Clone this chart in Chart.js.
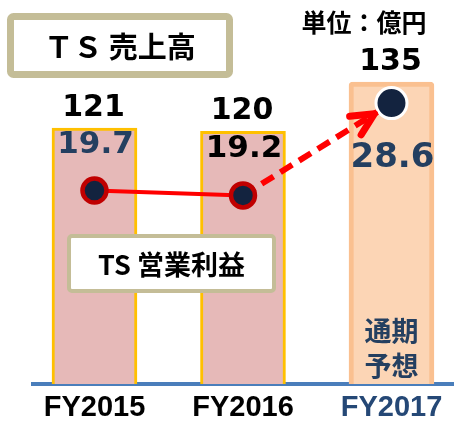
<!DOCTYPE html>
<html lang="ja">
<head>
  <meta charset="UTF-8" />
  <title>TS 売上高 / 営業利益</title>
  <script src="https://cdn.jsdelivr.net/npm/chart.js"></script>
  <style>
    html, body { margin: 0; padding: 0; background: #fff; overflow: hidden; }
    canvas { display: block; }
  </style>
</head>
<body>
  <canvas id="tsChart" width="454" height="422"></canvas>

  <script>
    // data
    const years = ['FY2015', 'FY2016', 'FY2017'];
    const sales = [121, 120, 135];          // TS 売上高 (億円)
    const profit = [19.7, 19.2, 28.6];      // TS 営業利益 (億円)
    const profitLabelAbove = [true, true, false];

    const jp = '"Noto Sans CJK JP", sans-serif';
    const num = '"DejaVu Sans", sans-serif';
    const navy = '#243f60';

    function box(ctx, x, y, w, h, lw, text, font) {
      ctx.save();
      ctx.fillStyle = '#fff';
      ctx.strokeStyle = '#c4bd97';
      ctx.lineWidth = lw;
      ctx.beginPath();
      ctx.roundRect(x, y, w, h, 3);
      ctx.fill();
      ctx.stroke();
      ctx.fillStyle = '#000';
      ctx.font = font;
      ctx.textAlign = 'center';
      ctx.textBaseline = 'middle';
      ctx.fillText(text, x + w / 2, y + h / 2 + 1);
      ctx.restore();
    }

    const annotate = {
      id: 'annotate',
      afterDatasetsDraw(chart) {
        const ctx = chart.ctx;
        const bars = chart.getDatasetMeta(0).data;
        const pts = chart.getDatasetMeta(1).data;

        // arrow head on the forecast segment
        const a = pts[1], b = pts[2];
        const ang = Math.atan2(b.y - a.y, b.x - a.x);
        const tx = b.x - Math.cos(ang) * 20, ty = b.y - Math.sin(ang) * 20;
        ctx.save();
        ctx.strokeStyle = '#ff0000';
        ctx.lineWidth = 7;
        ctx.lineCap = 'round';
        ctx.lineJoin = 'round';
        ctx.beginPath();
        ctx.moveTo(tx - Math.cos(ang - 0.45) * 25, ty - Math.sin(ang - 0.45) * 25);
        ctx.lineTo(tx, ty);
        ctx.lineTo(tx - Math.cos(ang + 0.45) * 25, ty - Math.sin(ang + 0.45) * 25);
        ctx.stroke();
        ctx.restore();

        ctx.save();
        ctx.textAlign = 'center';
        ctx.textBaseline = 'middle';
        // sales values above bars
        ctx.fillStyle = '#000';
        ctx.font = 'bold 30px ' + num;
        bars.forEach((bar, i) => {
          ctx.fillText(String(sales[i]), bar.x - 1, bar.y - 20);
        });
        // profit values
        const pColors = [navy, '#000', navy];
        const pSizes = [31, 31, 34];
        pts.forEach((p, i) => {
          ctx.fillStyle = pColors[i];
          ctx.font = 'bold ' + pSizes[i] + 'px ' + num;
          const dy = profitLabelAbove[i] ? -46 : 55;
          ctx.fillText(profit[i].toFixed(1), bars[i].x + 1, p.y + dy);
        });
        // forecast note inside FY2017 bar
        ctx.fillStyle = navy;
        ctx.font = 'bold 27px ' + jp;
        ctx.fillText('通期', bars[2].x, 331);
        ctx.fillText('予想', bars[2].x, 366);
        // unit
        ctx.fillStyle = '#000';
        ctx.font = 'bold 25px ' + jp;
        ctx.fillText('単位：億円', 364, 22);
        ctx.restore();

        box(ctx, 10.5, 16.5, 219, 58, 7, 'ＴＳ 売上高', 'bold 29px ' + jp);
        box(ctx, 69, 236, 205, 55, 4, 'TS 営業利益', 'bold 27px ' + jp);
      }
    };

    new Chart(document.getElementById('tsChart'), {
      type: 'bar',
      data: {
        datasets: [
          {
            label: 'TS 売上高',
            data: sales.map((v, i) => ({ x: i, y: v })),
            yAxisID: 'y',
            order: 2,
            backgroundColor: ['#e6b9b8', '#e6b9b8', '#fcd5b5'],
            borderColor: ['#ffc000', '#ffc000', '#fac090'],
            borderWidth: [3, 3, 5],
            borderRadius: [0, 0, 4],
            borderSkipped: false,
            barThickness: 85
          },
          {
            type: 'line',
            label: 'TS 営業利益',
            data: profit.map((v, i) => ({ x: i, y: v })),
            yAxisID: 'y2',
            order: 1,
            borderColor: '#ff0000',
            borderWidth: 4,
            pointRadius: [12, 12, 15.5],
            pointBorderWidth: [4.5, 4.5, 3],
            pointBackgroundColor: '#13233f',
            pointBorderColor: ['#c00000', '#c00000', '#ffffff'],
            segment: {
              borderDash: c => c.p0DataIndex === 1 ? [14, 8] : [],
              borderWidth: c => c.p0DataIndex === 1 ? 6 : 4
            }
          }
        ]
      },
      options: {
        responsive: false,
        animation: false,
        layout: { autoPadding: false, padding: { left: 33, top: 0, right: 0, bottom: 0 } },
        plugins: { legend: { display: false }, tooltip: { enabled: false } },
        scales: {
          x: {
            type: 'linear',
            offset: false,
            min: -0.414,
            max: 2.421,
            afterBuildTicks: s => { s.ticks = years.map((_, i) => ({ value: i })); },
            afterFit: s => { s.height = 38; },
            grid: { drawOnChartArea: false, drawTicks: false, color: 'transparent' },
            border: { display: true, color: '#4a7ebb', width: 4 },
            ticks: {
              callback: v => years[v],
              padding: 7,
              maxRotation: 0,
              autoSkip: false,
              color: c => c.index === 2 ? '#254876' : '#000',
              font: { family: '"Liberation Sans", Arial, sans-serif', size: 29, weight: 'bold' }
            }
          },
          y: { display: false, min: 43, max: 160 },
          y2: { display: false, min: 0, max: 39.1 }
        }
      },
      plugins: [annotate]
    });
  </script>
</body>
</html>
